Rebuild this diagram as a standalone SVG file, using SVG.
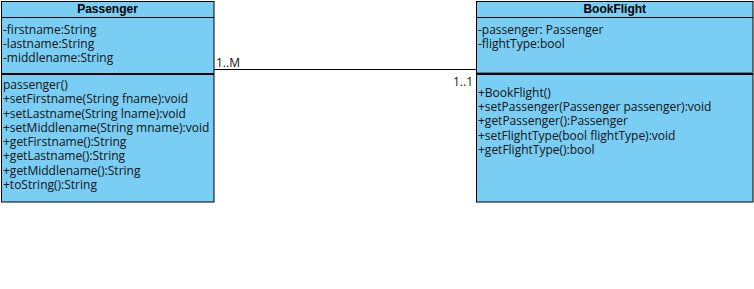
<svg xmlns="http://www.w3.org/2000/svg" width="754" height="289" viewBox="0 0 754 289">
<style>
.box{fill:#7ACEF4;stroke:#000;stroke-width:1}
.sep{stroke:#000;stroke-width:1}
.sep2{stroke:#000;stroke-width:2}
.title{font-family:"Liberation Sans",Arial,sans-serif;font-weight:bold;font-size:12px;fill:#000;text-anchor:middle}
.t{font-family:"Open Sans","Noto Sans",sans-serif;font-size:12px;fill:#111}
.conn{stroke:#000;stroke-width:1;fill:none}
</style>
<rect width="754" height="289" fill="#fff"/>
<g id="connectors">
<line class="conn" x1="214" y1="69.5" x2="482" y2="69.5"/>
<text class="t" x="216" y="67">1..M</text>
<text class="t" x="473" y="86" text-anchor="end">1..1</text>
</g>
<g id="Passenger">
<rect class="box" x="1.5" y="1.5" width="212.5" height="200.5"/>
<line class="sep" x1="1.5" y1="17.5" x2="214" y2="17.5"/>
<line class="sep2" x1="1.5" y1="74" x2="214" y2="74"/>
<text class="title" x="107.5" y="13">Passenger</text>
<text class="t" x="3" y="34">-firstname:String</text>
<text class="t" x="3" y="48">-lastname:String</text>
<text class="t" x="3" y="62">-middlename:String</text>
<text class="t" x="3" y="89">passenger()</text>
<text class="t" x="3" y="103">+setFirstname(String fname):void</text>
<text class="t" x="3" y="118">+setLastname(String lname):void</text>
<text class="t" x="3" y="132">+setMiddlename(String mname):void</text>
<text class="t" x="3" y="146">+getFirstname():String</text>
<text class="t" x="3" y="160">+getLastname():String</text>
<text class="t" x="3" y="175">+getMiddlename():String</text>
<text class="t" x="3" y="189">+toString():String</text>
</g>
<g id="BookFlight">
<rect class="box" x="476.5" y="1.5" width="276.5" height="200.5"/>
<line class="sep" x1="476.5" y1="17.5" x2="753" y2="17.5"/>
<line stroke="#4a7f99" stroke-width="1" x1="477" y1="72.5" x2="753" y2="72.5"/>
<line class="sep2" x1="476.5" y1="74" x2="753" y2="74"/>
<text class="title" x="614.75" y="13">BookFlight</text>
<text class="t" x="478" y="34">-passenger: Passenger</text>
<text class="t" x="478" y="48">-flightType:bool</text>
<text class="t" x="478" y="97">+BookFlight()</text>
<text class="t" x="478" y="111">+setPassenger(Passenger passenger):void</text>
<text class="t" x="478" y="125">+getPassenger():Passenger</text>
<text class="t" x="478" y="140">+setFlightType(bool flightType):void</text>
<text class="t" x="478" y="154">+getFlightType():bool</text>
</g>
</svg>
